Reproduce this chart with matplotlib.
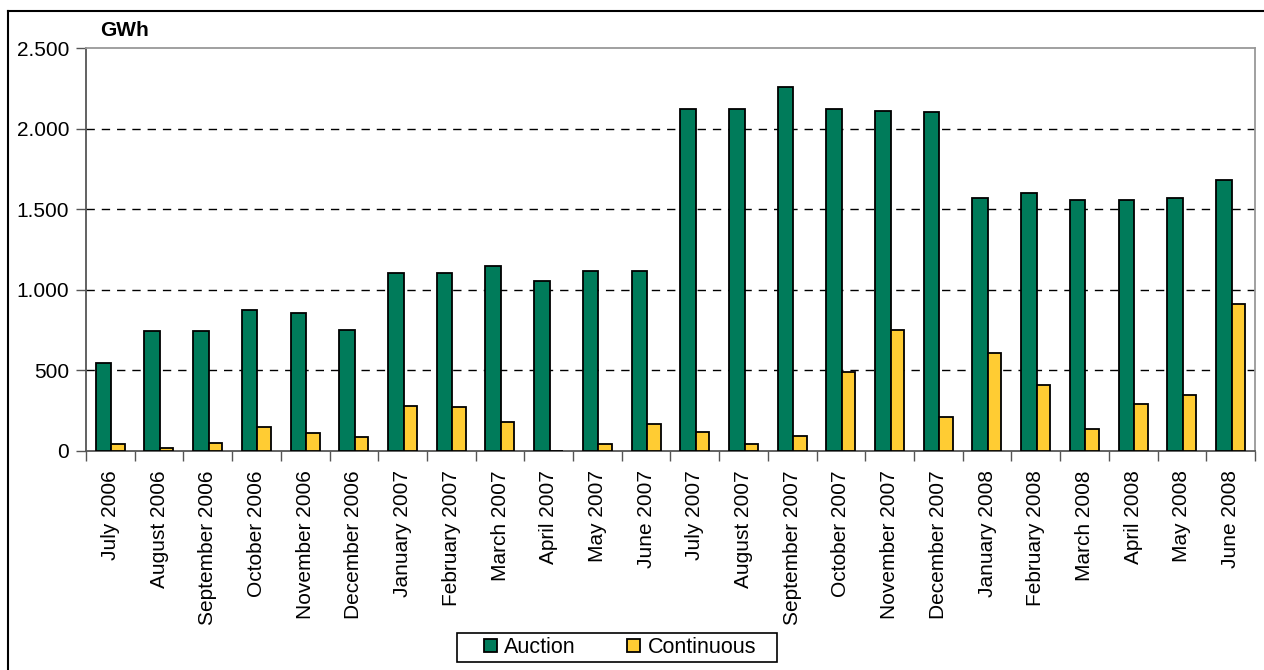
import numpy as np
import matplotlib
matplotlib.use("Agg")
import matplotlib.pyplot as plt
from matplotlib.patches import Rectangle
from matplotlib.lines import Line2D
from matplotlib.ticker import FuncFormatter, FixedLocator

plt.rcParams.update({"font.family": ["Liberation Sans", "DejaVu Sans"], "font.size": 15})

months = ["July 2006", "August 2006", "September 2006", "October 2006", "November 2006",
          "December 2006", "January 2007", "February 2007", "March 2007", "April 2007",
          "May 2007", "June 2007", "July 2007", "August 2007", "September 2007",
          "October 2007", "November 2007", "December 2007", "January 2008", "February 2008",
          "March 2008", "April 2008", "May 2008", "June 2008"]
auction = [543, 741, 741, 876, 855, 752, 1106, 1106, 1149, 1054, 1118, 1118,
           2123, 2123, 2257, 2123, 2112, 2102, 1568, 1599, 1557, 1557, 1568, 1684]
continuous = [41, 19, 50, 145, 112, 83, 280, 269, 176, 0, 41, 166,
              114, 41, 93, 491, 752, 209, 607, 408, 135, 292, 344, 909]

GREEN = "#007b5a"; YELLOW = "#ffcc33"; AXC = "#555555"; BORD = "#999999"
W, H = 1264, 670

fig = plt.figure(figsize=(W / 100, H / 100), dpi=100)
# chart-area frame: only the top and left edges fall inside the picture
fig.add_artist(Line2D([8 / W, 1.0], [1 - 11 / H] * 2, color="black", lw=1.5, transform=fig.transFigure))
fig.add_artist(Line2D([8 / W] * 2, [0, 1 - 11 / H], color="black", lw=1.5, transform=fig.transFigure))

ax = fig.add_axes([86 / W, 219.3 / H, 1169 / W, 402.4 / H])

x = np.arange(len(months))
ax.bar(x - 0.30, auction, width=0.32, align="edge", color=GREEN, edgecolor="black", lw=1.3,
       label="Auction", zorder=3)
ax.bar(x + 0.02, continuous, width=0.275, align="edge", color=YELLOW, edgecolor="black", lw=1.3,
       label="Continuous", zorder=3)

ax.set_xlim(-0.5, len(months) - 0.5)
ax.set_ylim(0, 2500)
ax.set_yticks([0, 500, 1000, 1500, 2000, 2500])
ax.yaxis.set_major_formatter(FuncFormatter(lambda v, p: f"{int(v):,}".replace(",", ".")))
for v in (500, 1000, 1500, 2000):
    ax.axhline(v, color="black", lw=1.0, ls=(0, (6, 5)), zorder=1)

ax.set_xticks(x)
ax.set_xticklabels(months, rotation=90)
ax.xaxis.set_minor_locator(FixedLocator(np.arange(-0.5, len(months), 1.0)))
ax.tick_params(axis="x", which="major", length=0, pad=14)
ax.tick_params(axis="x", which="minor", length=7, width=1.0, color=AXC, direction="out")
ax.tick_params(axis="y", length=7, width=1.0, color=AXC, pad=5)

ax.spines["left"].set_color(AXC); ax.spines["bottom"].set_color(AXC)
ax.spines["left"].set_linewidth(1.3); ax.spines["bottom"].set_linewidth(1.3)
ax.spines["top"].set_color(BORD); ax.spines["right"].set_color(BORD)
ax.spines["top"].set_linewidth(1.3); ax.spines["right"].set_linewidth(1.3)

fig.text(100 / W, 1 - 30 / H, "GWh", fontweight="bold", fontsize=15, ha="left", va="center")

fig.patches.append(Rectangle((457 / W, 1 - 662 / H), 320 / W, 29 / H, transform=fig.transFigure,
                             fill=False, ec="black", lw=1.2))
fig.legend(loc="center", bbox_to_anchor=(620 / W, 1 - 647.5 / H), ncol=2, frameon=False,
           handlelength=0.6, handleheight=0.6, handletextpad=0.35, columnspacing=2.4,
           borderpad=0.2, fontsize=15.5)

fig.savefig("out.png", dpi=100)
